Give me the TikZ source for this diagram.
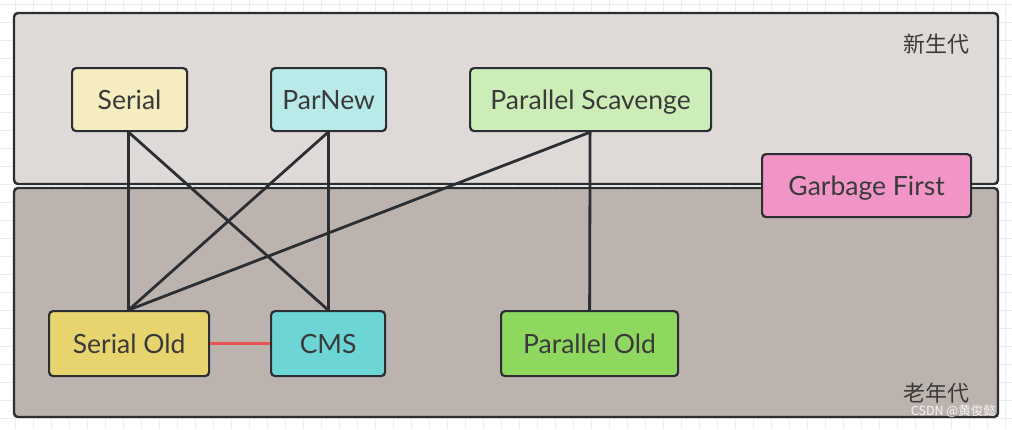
\documentclass[tikz,border=0pt]{standalone}
\usepackage{fontspec}
\setmainfont{Lato}
\newfontfamily\cjk{Noto Sans CJK SC}
\definecolor{gridc}{HTML}{ECECEC}
\definecolor{edge}{HTML}{2B2F33}
\definecolor{txt}{HTML}{3A3A3A}
\definecolor{younggen}{HTML}{DFDAD8}
\definecolor{oldgen}{HTML}{BCB2AE}
\definecolor{cserial}{HTML}{F5EDC0}
\definecolor{cparnew}{HTML}{B8EAEA}
\definecolor{cps}{HTML}{CDEDB8}
\definecolor{cg1}{HTML}{F095C6}
\definecolor{cso}{HTML}{E8D46E}
\definecolor{ccms}{HTML}{6ED5D7}
\definecolor{cpo}{HTML}{8FD860}
\definecolor{redl}{HTML}{E55353}
\tikzset{
  region/.style={draw=edge, line width=2.4pt, rounded corners=4pt},
  gcbox/.style={draw=edge, line width=2.2pt, rounded corners=4pt, text=txt,
    font=\fontsize{26.5}{30}\selectfont, inner sep=0pt, text height=19pt, text depth=0pt,
    anchor=north west},
  link/.style={draw=edge, line width=2.8pt},
  genlabel/.style={text=txt, font=\cjk\fontsize{22}{26}\selectfont, inner sep=0pt}
}
\begin{document}
\begin{tikzpicture}[x=1pt,y=-1pt]
\useasboundingbox (0,0) rectangle (1012,429);
\fill[white] (0,0) rectangle (1012,429);
\foreach \i in {0,...,56} {\draw[gridc, line width=0.8pt] (15+18*\i,0) -- (15+18*\i,429);}
\foreach \j in {0,...,24} {\draw[gridc, line width=0.8pt] (0,4.5+18*\j) -- (1012,4.5+18*\j);}
% generations
\draw[region, fill=younggen] (14,13) rectangle (998,184);
\draw[region, fill=oldgen] (14,188) rectangle (998,417);
\node[genlabel, anchor=east] (ylab) at (970,44) {新生代};
\node[genlabel, anchor=east] (olab) at (970,393) {老年代};
% collectors
\node[gcbox, fill=cserial, minimum width=115pt, minimum height=63pt] (serial) at (71,67) {Serial};
\node[gcbox, fill=cparnew, minimum width=115pt, minimum height=63pt] (parnew) at (270,67) {ParNew};
\node[gcbox, fill=cps, minimum width=241pt, minimum height=63pt] (ps) at (469,67) {Parallel Scavenge};
\node[gcbox, fill=cso, minimum width=160pt, minimum height=65pt] (so) at (48,310) {Serial Old};
\node[gcbox, fill=ccms, minimum width=114pt, minimum height=65pt] (cms) at (270,310) {CMS};
\node[gcbox, fill=cpo, minimum width=177pt, minimum height=65pt] (po) at (500,310) {Parallel Old};
\node[gcbox, fill=cg1, minimum width=209pt, minimum height=63pt] (g1) at (761,153) {Garbage First};
% connectors
\coordinate (sb) at ([xshift=-1pt]serial.south);
\coordinate (pnb) at ([xshift=-0.5pt]parnew.south);
\coordinate (psb) at ([xshift=-0.5pt]ps.south);
\coordinate (sot) at ([xshift=-0.5pt]so.north);
\coordinate (cmst) at ([xshift=0pt]cms.north);
\coordinate (pot) at (po.north);
\draw[link] (sb) -- (sot);
\draw[link] (sb) -- (cmst);
\draw[link] (pnb) -- (sot);
\draw[link] (pnb) -- (cmst);
\draw[link] (psb) -- (sot);
\draw[link] (psb) -- (pot);
\draw[redl, line width=2.8pt] (so.east) -- (cms.west);
% watermark
\node[text=white!92!gray, font=\cjk\fontsize{12.5}{14}\selectfont, inner sep=0pt, anchor=east] (wm) at (996,411) {CSDN @黄俊懿};
\end{tikzpicture}
\end{document}
